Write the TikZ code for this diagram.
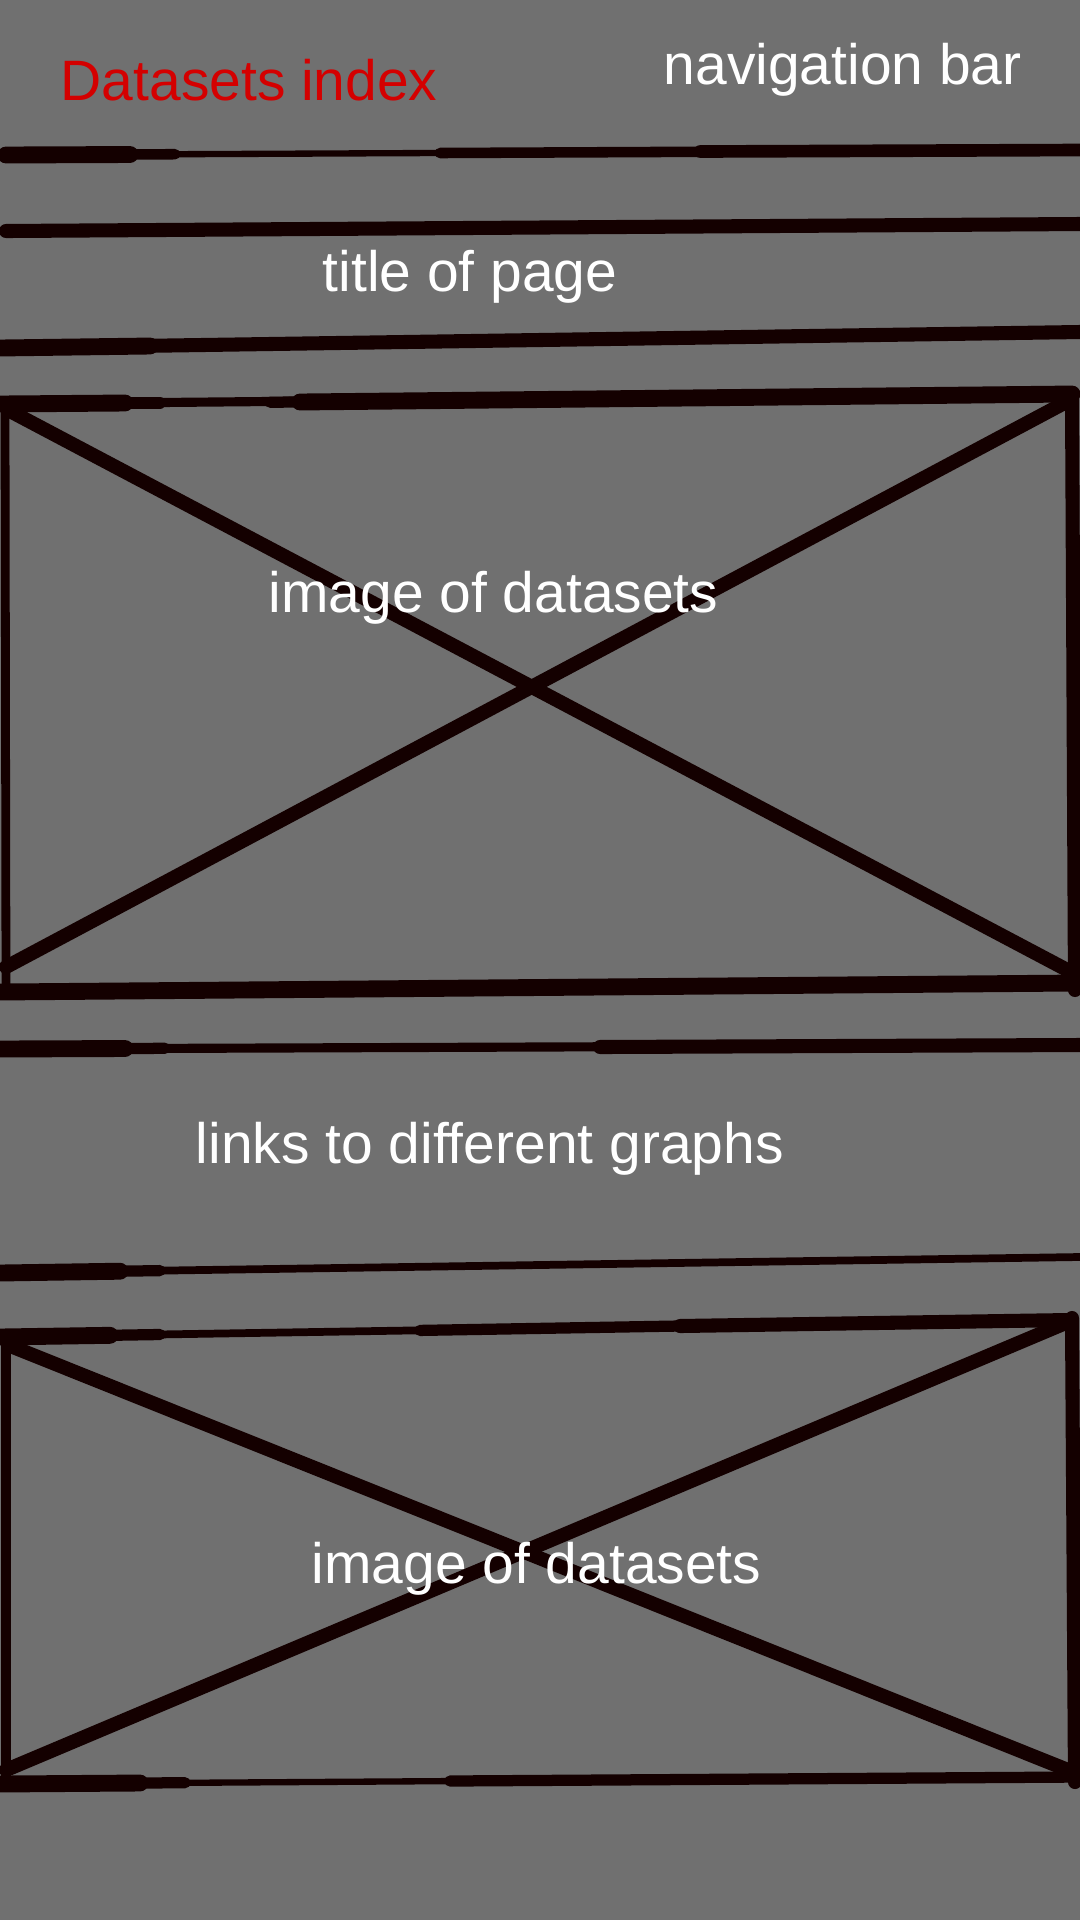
\documentclass[tikz,border=0pt]{standalone}
\usepackage{fontspec}
\setmainfont{Liberation Sans}
\definecolor{paper}{HTML}{707070}
\definecolor{ink}{HTML}{140000}
\definecolor{brandred}{HTML}{D40000}

\begin{document}
\begin{tikzpicture}[
    x=0.01cm, y=-0.01cm,
    pen/.style={draw=ink, line width=4pt, line cap=round, line join=round},
    fine/.style={draw=ink, line width=2.2pt, line cap=round},
    mid/.style={draw=ink, line width=3.2pt, line cap=round},
    heavy/.style={draw=ink, line width=4.8pt, line cap=round},
    label/.style={font=\fontsize{16.2}{19}\selectfont, text=white, inner sep=0pt, anchor=base west}
]
% Page
\fill[paper] (0,0) rectangle (1080,1920);
\useasboundingbox (0,0) rectangle (1080,1920);

% Navigation bar rules
\draw[fine, line width=1.8pt] (6,155) -- (1080,150);
\draw[heavy] (6,155) -- (130,154.5);
\draw[mid, line width=3pt] (130,154.5) -- (175,154.2);
\draw[mid, line width=3pt] (440,153) -- (1080,150);
\draw[pen, line width=3.6pt] (700,151.5) -- (1080,150);
\draw[pen] (6,231) -- (1080,224);

% Title rule
\draw[pen] (0,348) -- (1080,332);
\draw[heavy] (0,348) -- (150,346);

% First image placeholder
\draw[fine, line width=2.6pt] (0,404) -- (1072,394);
\draw[heavy] (0,404) -- (125,403);
\draw[mid] (125,403) -- (160,403);
\draw[mid] (270,402.2) -- (300,402);
\draw[heavy] (300,402) -- (1072,394);
\draw[ink, line width=2.5pt] (5,404) -- (6,992);
\draw[pen] (1072,394) -- (1075,990);
\draw[heavy] (0,992) -- (1078,983);
\draw[pen] (8,410) -- (1073,973);
\draw[pen] (1070,400) -- (6,967);

% Links band
\draw[fine, line width=2.6pt] (0,1049) -- (1080,1045);
\draw[heavy] (0,1049) -- (125,1048.5);
\draw[mid] (125,1048.5) -- (165,1048.3);
\draw[pen] (600,1047) -- (1080,1045);
\draw[fine] (0,1273) -- (1080,1257);
\draw[heavy] (0,1273) -- (120,1271.2);
\draw[mid] (120,1271.2) -- (160,1270.6);

% Second image placeholder
\draw[fine] (0,1337) -- (1070,1320);
\draw[heavy] (0,1337) -- (110,1335.3);
\draw[mid] (110,1335.3) -- (160,1334.5);
\draw[mid] (420,1330.4) -- (680,1326);
\draw[pen] (680,1326) -- (1070,1320);
\draw[ink, line width=2.6pt] (6,1337) -- (6,1785);
\draw[pen] (1072,1318) -- (1075,1782);
\draw[fine, line width=1.8pt] (0,1784) -- (1080,1777);
\draw[heavy] (0,1784) -- (140,1783);
\draw[mid] (140,1783) -- (185,1782.7);
\draw[pen, line width=3.2pt] (450,1781) -- (1080,1777);
\draw[pen] (8,1345) -- (1073,1772);
\draw[pen] (1068,1322) -- (6,1770);

% Labels
\node[label, text=brandred] (brand) at (60,100) {Datasets index};
\node[label] (nav) at (663,84) {navigation bar};
\node[label] (title) at (322,291) {title of page};
\node[label] (imageA) at (268,612) {image of datasets};
\node[label] (links) at (195,1163) {links to different graphs};
\node[label] (imageB) at (311,1583) {image of datasets};
\end{tikzpicture}
\end{document}
